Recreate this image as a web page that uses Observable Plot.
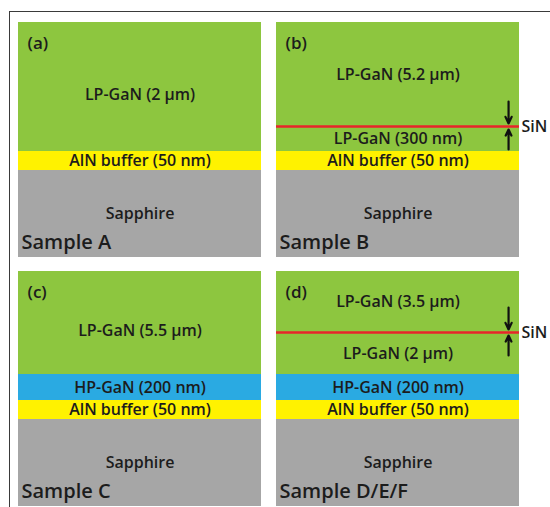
<!DOCTYPE html>
<html>
<head>
<meta charset="utf-8">
<script src="https://cdn.jsdelivr.net/npm/d3@7"></script>
<script src="https://cdn.jsdelivr.net/npm/@observablehq/plot@0.6"></script>
<style>
  html, body { margin: 0; padding: 0; background: #fff; }
  #wrap { position: relative; width: 550px; height: 507px; overflow: hidden; }
  #frame { position: absolute; left: 9px; top: 11px; width: 580px; height: 520px;
           border-top: 1.6px solid #3a3a3a; border-left: 1.6px solid #3a3a3a; pointer-events: none; }
</style>
</head>
<body>
<div id="wrap"><div id="frame"></div></div>
<script>
// ---- data ----
const samples = ["Sample A", "Sample B", "Sample C", "Sample D/E/F"];
const panelTags = ["(a)", "(b)", "(c)", "(d)"];
const layerNames = [
  ["Sapphire", "AlN buffer (50 nm)", "LP-GaN (2 μm)"],
  ["Sapphire", "AlN buffer (50 nm)", "LP-GaN (300 nm)", "LP-GaN (5.2 μm)"],
  ["Sapphire", "AlN buffer (50 nm)", "HP-GaN (200 nm)", "LP-GaN (5.5 μm)"],
  ["Sapphire", "AlN buffer (50 nm)", "HP-GaN (200 nm)", "LP-GaN (2 μm)", "LP-GaN (3.5 μm)"]
];
const layerKinds = [
  ["sapphire", "aln", "lp"],
  ["sapphire", "aln", "lp", "lp"],
  ["sapphire", "aln", "hp", "lp"],
  ["sapphire", "aln", "hp", "lp", "lp"]
];
// schematic (drawn) layer heights, not to scale
const drawnHeights = [
  [87, 19, 129],
  [87, 19, 25, 104],
  [87, 19, 26, 103],
  [87, 19, 26, 42, 61]
];
// SiN interlayer sits on top of this layer index (null = none)
const sinOnTop = [null, 2, null, 3];
const sinLabel = "SiN";
const kindColors = { sapphire: "#a6a6a6", aln: "#fff200", hp: "#2aaae2", lp: "#8dc63f" };

// ---- derived tables ----
const total = d3.max(drawnHeights, h => d3.sum(h));
const layers = [];
const panels = [];
const sins = [];
const arrows = [];
samples.forEach((s, i) => {
  const col = i % 2, row = Math.floor(i / 2);
  panels.push({ sample: s, tag: panelTags[i], col, row });
  let acc = 0;
  const single = sinOnTop[i] === null;
  drawnHeights[i].forEach((h, j) => {
    const top = j === drawnHeights[i].length - 1;
    layers.push({
      sample: s, col, row, name: layerNames[i][j], kind: layerKinds[i][j],
      y1: acc, y2: acc + h,
      ly: (acc + acc + h) / 2 - (top && single ? 8 : 0)
    });
    if (sinOnTop[i] === j) {
      const y = acc + h;
      sins.push({ sample: s, col, row, y });
      arrows.push({ col, row, x: 0.955, y1: y + 25, y2: y + 3 });
      arrows.push({ col, row, x: 0.955, y1: y - 23, y2: y - 3 });
    }
    acc += h;
  });
});

const txt = "#1c1c1c";
const chart = Plot.plot({
  width: 550,
  height: 507,
  marginTop: 22,
  marginBottom: 0,
  marginLeft: 18,
  marginRight: 30,
  style: { fontFamily: "'Open Sans', 'Noto Sans', sans-serif", background: "transparent", overflow: "visible" },
  x: { domain: [0, 1], axis: null },
  y: { domain: [0, total], axis: null },
  fx: { domain: [0, 1], paddingInner: 0.058, paddingOuter: 0, axis: null },
  fy: { domain: [0, 1], paddingInner: 0.056, paddingOuter: 0, axis: null },
  marks: [
    Plot.rect(layers, { x1: 0, x2: 1, y1: "y1", y2: "y2", fx: "col", fy: "row",
      fill: d => kindColors[d.kind] }),
    Plot.ruleY(sins, { y: "y", x1: 0, x2: 1, fx: "col", fy: "row", stroke: "#e8262b", strokeWidth: 2.5 }),
    Plot.arrow(arrows, { x1: "x", x2: "x", y1: "y1", y2: "y2", fx: "col", fy: "row",
      stroke: "#111", strokeWidth: 2.2, headLength: 6, headAngle: 50 }),
    Plot.text(layers, { x: 0.5, y: "ly", text: "name", fx: "col", fy: "row",
      fontSize: 16, fontWeight: 600, fill: txt }),
    Plot.text(panels, { x: 0, y: total, text: "tag", fx: "col", fy: "row",
      dx: 9, dy: 21, textAnchor: "start", fontSize: 17, fontWeight: 600, fill: txt }),
    Plot.text(panels, { x: 0, y: 0, text: "sample", fx: "col", fy: "row",
      dx: 3, dy: -15, textAnchor: "start", fontSize: 20, fontWeight: 600, fill: txt }),
    Plot.text(sins, { x: 1, y: "y", text: () => sinLabel, fx: "col", fy: "row",
      dx: 2, textAnchor: "start", fontSize: 16, fontWeight: 600, fill: txt })
  ]
});
document.getElementById("wrap").prepend(chart);
</script>
</body>
</html>
